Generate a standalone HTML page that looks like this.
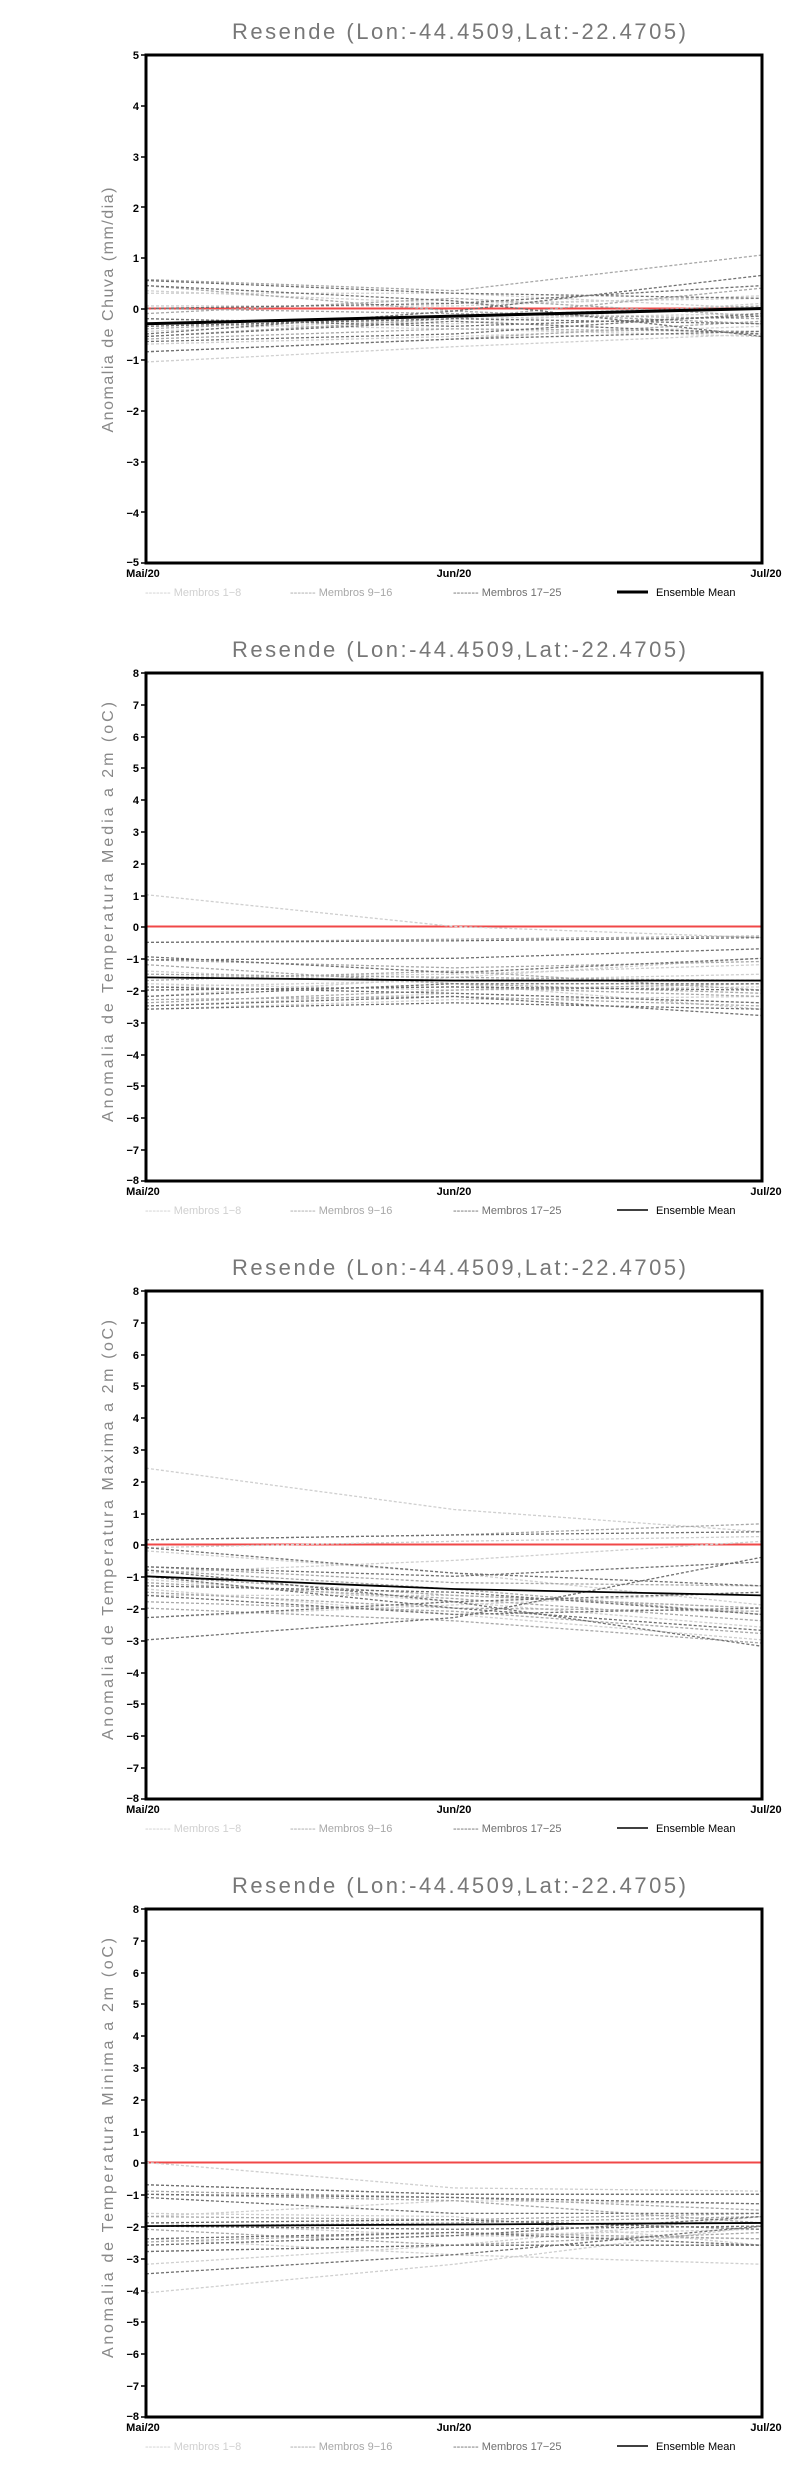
<!DOCTYPE html>
<html><head><meta charset="utf-8"><style>
html,body{margin:0;padding:0;background:#fff;}
svg{display:block;}
.t{font-family:"Liberation Sans",sans-serif;font-size:22px;fill:#777;font-weight:300;}
.yl{font-family:"Liberation Sans",sans-serif;font-size:16px;fill:#888;}
.tk{font-family:"Liberation Sans",sans-serif;font-size:11px;font-weight:bold;fill:#000;}
.lg{font-family:"Liberation Sans",sans-serif;font-size:11px;}
.m1{stroke:#cfcfcf;}.m2{stroke:#a8a8a8;}.m3{stroke:#707070;}
.d polyline{fill:none;stroke-width:1.3;stroke-dasharray:3 2;vector-effect:non-scaling-stroke;}
.mean{fill:none;stroke:#000;vector-effect:non-scaling-stroke;}
.zero{fill:none;stroke:#f04848;stroke-width:2;vector-effect:non-scaling-stroke;}
</style></head><body>
<svg width="800" height="2472" viewBox="0 0 800 2472" xmlns="http://www.w3.org/2000/svg">

<!-- Panel 1 -->
<g>
<text class="t" x="459" y="39" text-anchor="middle" textLength="454">Resende (Lon:-44.4509,Lat:-22.4705)</text>
<text class="yl" transform="translate(113,310) rotate(-90)" text-anchor="middle" textLength="245">Anomalia de Chuva (mm/dia)</text>
<g transform="translate(146,308.5) scale(308,-50.9)">
<polyline class="zero" points="0,0 2,0"/>
<g class="d">
<polyline class="m1" points="0,-1.05 1,-0.75 2,-0.5"/>
<polyline class="m1" points="0,0.35 1,0.1 2,0.2"/>
<polyline class="m1" points="0,-0.2 1,-0.3 2,0.1"/>
<polyline class="m1" points="0,-0.7 1,-0.55 2,-0.35"/>
<polyline class="m1" points="0,0.05 1,0.05 2,0.25"/>
<polyline class="m1" points="0,-0.45 1,-0.2 2,-0.1"/>
<polyline class="m1" points="0,-0.3 1,-0.4 2,-0.55"/>
<polyline class="m1" points="0,0.3 1,0.3 2,0"/>
<polyline class="m2" points="0,0.57 1,0.35 2,1.05"/>
<polyline class="m2" points="0,-0.55 1,-0.2 2,0.4"/>
<polyline class="m2" points="0,-0.1 1,0.2 2,-0.15"/>
<polyline class="m2" points="0,-0.6 1,-0.4 2,-0.45"/>
<polyline class="m2" points="0,0.45 1,-0.05 2,-0.3"/>
<polyline class="m2" points="0,-0.4 1,-0.15 2,0.05"/>
<polyline class="m2" points="0,-0.85 1,-0.6 2,-0.25"/>
<polyline class="m2" points="0,0 1,-0.1 2,-0.2"/>
<polyline class="m3" points="0,0.45 1,0.15 2,-0.55"/>
<polyline class="m3" points="0,-0.5 1,-0.05 2,0.65"/>
<polyline class="m3" points="0,-0.85 1,-0.6 2,-0.45"/>
<polyline class="m3" points="0,0 1,0.1 2,0.45"/>
<polyline class="m3" points="0,-0.2 1,-0.35 2,-0.15"/>
<polyline class="m3" points="0,-0.55 1,-0.25 2,-0.5"/>
<polyline class="m3" points="0,0.55 1,0.3 2,0.2"/>
<polyline class="m3" points="0,-0.35 1,-0.2 2,-0.3"/>
<polyline class="m3" points="0,-0.65 1,-0.5 2,-0.1"/>
</g>
<polyline class="mean" stroke-width="3" points="0,-0.3 1,-0.15 2,0"/>
</g>
<rect x="146" y="55" width="616" height="508" fill="none" stroke="#000" stroke-width="3"/>
<g class="tk" text-anchor="end">
<text x="139" y="59">5</text><text x="139" y="110">4</text><text x="139" y="161">3</text><text x="139" y="212">2</text><text x="139" y="262">1</text><text x="139" y="313">0</text><text x="139" y="364">−1</text><text x="139" y="415">−2</text><text x="139" y="466">−3</text><text x="139" y="517">−4</text><text x="139" y="566">−5</text>
</g>
<g stroke="#000" stroke-width="1.5"><path d="M141 55h5M141 106h5M141 157h5M141 207h5M141 258h5M141 309h5M141 360h5M141 411h5M141 462h5M141 512h5M141 563h5"/></g>
<g class="tk" text-anchor="middle"><text x="143" y="577">Mai/20</text><text x="454" y="577">Jun/20</text><text x="766" y="577">Jul/20</text></g>
<g class="lg">
<text x="145" y="596" fill="#d0d0d0">------- Membros 1−8</text>
<text x="290" y="596" fill="#a8a8a8">------- Membros 9−16</text>
<text x="453" y="596" fill="#707070">------- Membros 17−25</text>
<line x1="617" y1="592" x2="648" y2="592" stroke="#000" stroke-width="3"/>
<text x="656" y="596" fill="#000">Ensemble Mean</text>
</g>
</g>

<!-- Panel 2 -->
<g transform="translate(0,618)">
<text class="t" x="459" y="39" text-anchor="middle" textLength="454">Resende (Lon:-44.4509,Lat:-22.4705)</text>
<text class="yl" transform="translate(113,294) rotate(-90)" text-anchor="middle" textLength="420">Anomalia de Temperatura Media a 2m (oC)</text>
<g transform="translate(146,308.5) scale(308,-31.8)">
<polyline class="zero" points="0,0 2,0"/>
<g class="d">
<polyline class="m1" points="0,1.0 1,0 2,-0.35"/>
<polyline class="m1" points="0,-1.6 1,-1.5 2,-1.2"/>
<polyline class="m1" points="0,-2.5 1,-2.1 2,-2.4"/>
<polyline class="m1" points="0,-1.8 1,-2.0 2,-1.9"/>
<polyline class="m1" points="0,-2.2 1,-1.6 2,-1.0"/>
<polyline class="m1" points="0,-1.4 1,-1.8 2,-2.6"/>
<polyline class="m1" points="0,-2.6 1,-2.3 2,-2.2"/>
<polyline class="m1" points="0,-1.9 1,-1.7 2,-1.5"/>
<polyline class="m2" points="0,-0.5 1,-0.4 2,-0.3"/>
<polyline class="m2" points="0,-1.05 1,-1.3 2,-1.1"/>
<polyline class="m2" points="0,-1.5 1,-1.6 2,-1.7"/>
<polyline class="m2" points="0,-2.0 1,-1.9 2,-2.2"/>
<polyline class="m2" points="0,-2.4 1,-2.0 2,-1.8"/>
<polyline class="m2" points="0,-1.7 1,-1.4 2,-2.0"/>
<polyline class="m2" points="0,-2.3 1,-2.2 2,-2.5"/>
<polyline class="m2" points="0,-1.2 1,-1.8 2,-2.1"/>
<polyline class="m3" points="0,-0.5 1,-0.45 2,-0.35"/>
<polyline class="m3" points="0,-0.95 1,-1.45 2,-1.0"/>
<polyline class="m3" points="0,-1.05 1,-1.0 2,-0.7"/>
<polyline class="m3" points="0,-1.6 1,-1.7 2,-1.7"/>
<polyline class="m3" points="0,-2.0 1,-1.9 2,-2.0"/>
<polyline class="m3" points="0,-2.5 1,-2.2 2,-2.8"/>
<polyline class="m3" points="0,-2.2 1,-1.8 2,-1.8"/>
<polyline class="m3" points="0,-1.9 1,-2.1 2,-2.4"/>
<polyline class="m3" points="0,-2.6 1,-2.4 2,-2.6"/>
</g>
<polyline class="mean" stroke-width="1.8" points="0,-1.6 1,-1.7 2,-1.7"/>
</g>
<rect x="146" y="55" width="616" height="508" fill="none" stroke="#000" stroke-width="3"/>
<g class="tk" text-anchor="end">
<text x="139" y="59">8</text><text x="139" y="91">7</text><text x="139" y="123">6</text><text x="139" y="154">5</text><text x="139" y="186">4</text><text x="139" y="218">3</text><text x="139" y="250">2</text><text x="139" y="282">1</text><text x="139" y="313">0</text><text x="139" y="345">−1</text><text x="139" y="377">−2</text><text x="139" y="409">−3</text><text x="139" y="441">−4</text><text x="139" y="472">−5</text><text x="139" y="504">−6</text><text x="139" y="536">−7</text><text x="139" y="566">−8</text>
</g>
<g stroke="#000" stroke-width="1.5"><path d="M141 55h5M141 87h5M141 119h5M141 150h5M141 182h5M141 214h5M141 246h5M141 278h5M141 309h5M141 341h5M141 373h5M141 405h5M141 437h5M141 468h5M141 500h5M141 532h5M141 563h5"/></g>
<g class="tk" text-anchor="middle"><text x="143" y="577">Mai/20</text><text x="454" y="577">Jun/20</text><text x="766" y="577">Jul/20</text></g>
<g class="lg">
<text x="145" y="596" fill="#d0d0d0">------- Membros 1−8</text>
<text x="290" y="596" fill="#a8a8a8">------- Membros 9−16</text>
<text x="453" y="596" fill="#707070">------- Membros 17−25</text>
<line x1="617" y1="592" x2="648" y2="592" stroke="#000" stroke-width="1.5"/>
<text x="656" y="596" fill="#000">Ensemble Mean</text>
</g>
</g>

<!-- Panel 3 -->
<g transform="translate(0,1236)">
<text class="t" x="459" y="39" text-anchor="middle" textLength="454">Resende (Lon:-44.4509,Lat:-22.4705)</text>
<text class="yl" transform="translate(113,294) rotate(-90)" text-anchor="middle" textLength="420">Anomalia de Temperatura Maxima a 2m (oC)</text>
<g transform="translate(146,308.5) scale(308,-31.8)">
<polyline class="zero" points="0,0 2,0"/>
<g class="d">
<polyline class="m1" points="0,2.4 1,1.1 2,0.4"/>
<polyline class="m1" points="0,-0.2 1,-0.9 2,-1.9"/>
<polyline class="m1" points="0,-1.1 1,-1.8 2,-2.6"/>
<polyline class="m1" points="0,-1.6 1,-1.6 2,-2.0"/>
<polyline class="m1" points="0,-2.3 1,-1.9 2,-1.5"/>
<polyline class="m1" points="0,-0.9 1,-0.5 2,0.1"/>
<polyline class="m1" points="0,-1.4 1,-2.2 2,-3.0"/>
<polyline class="m1" points="0,-0.1 1,0.1 2,0.25"/>
<polyline class="m2" points="0,0.15 1,0.3 2,0.65"/>
<polyline class="m2" points="0,-0.8 1,-1.4 2,-2.2"/>
<polyline class="m2" points="0,-1.2 1,-1.7 2,-2.4"/>
<polyline class="m2" points="0,-1.5 1,-2.0 2,-2.1"/>
<polyline class="m2" points="0,-1.8 1,-2.1 2,-2.8"/>
<polyline class="m2" points="0,-0.7 1,-1.2 2,-1.3"/>
<polyline class="m2" points="0,-1.0 1,-1.6 2,-2.0"/>
<polyline class="m2" points="0,-2.0 1,-2.4 2,-3.1"/>
<polyline class="m3" points="0,0.15 1,0.3 2,0.4"/>
<polyline class="m3" points="0,-0.1 1,-0.9 2,-1.3"/>
<polyline class="m3" points="0,-3.0 1,-2.3 2,-0.4"/>
<polyline class="m3" points="0,-0.7 1,-1.0 2,-0.55"/>
<polyline class="m3" points="0,-1.3 1,-1.5 2,-2.2"/>
<polyline class="m3" points="0,-2.3 1,-1.8 2,-1.5"/>
<polyline class="m3" points="0,-1.0 1,-2.0 2,-2.7"/>
<polyline class="m3" points="0,-0.8 1,-1.8 2,-3.2"/>
<polyline class="m3" points="0,-1.6 1,-2.2 2,-2.0"/>
</g>
<polyline class="mean" stroke-width="1.8" points="0,-1.0 1,-1.4 2,-1.6"/>
</g>
<rect x="146" y="55" width="616" height="508" fill="none" stroke="#000" stroke-width="3"/>
<g class="tk" text-anchor="end">
<text x="139" y="59">8</text><text x="139" y="91">7</text><text x="139" y="123">6</text><text x="139" y="154">5</text><text x="139" y="186">4</text><text x="139" y="218">3</text><text x="139" y="250">2</text><text x="139" y="282">1</text><text x="139" y="313">0</text><text x="139" y="345">−1</text><text x="139" y="377">−2</text><text x="139" y="409">−3</text><text x="139" y="441">−4</text><text x="139" y="472">−5</text><text x="139" y="504">−6</text><text x="139" y="536">−7</text><text x="139" y="566">−8</text>
</g>
<g stroke="#000" stroke-width="1.5"><path d="M141 55h5M141 87h5M141 119h5M141 150h5M141 182h5M141 214h5M141 246h5M141 278h5M141 309h5M141 341h5M141 373h5M141 405h5M141 437h5M141 468h5M141 500h5M141 532h5M141 563h5"/></g>
<g class="tk" text-anchor="middle"><text x="143" y="577">Mai/20</text><text x="454" y="577">Jun/20</text><text x="766" y="577">Jul/20</text></g>
<g class="lg">
<text x="145" y="596" fill="#d0d0d0">------- Membros 1−8</text>
<text x="290" y="596" fill="#a8a8a8">------- Membros 9−16</text>
<text x="453" y="596" fill="#707070">------- Membros 17−25</text>
<line x1="617" y1="592" x2="648" y2="592" stroke="#000" stroke-width="1.5"/>
<text x="656" y="596" fill="#000">Ensemble Mean</text>
</g>
</g>

<!-- Panel 4 -->
<g transform="translate(0,1854)">
<text class="t" x="459" y="39" text-anchor="middle" textLength="454">Resende (Lon:-44.4509,Lat:-22.4705)</text>
<text class="yl" transform="translate(113,294) rotate(-90)" text-anchor="middle" textLength="420">Anomalia de Temperatura Minima a 2m (oC)</text>
<g transform="translate(146,308.5) scale(308,-31.8)">
<polyline class="zero" points="0,0 2,0"/>
<g class="d">
<polyline class="m1" points="0,0 1,-0.8 2,-0.9"/>
<polyline class="m1" points="0,-4.1 1,-3.2 2,-2.0"/>
<polyline class="m1" points="0,-1.6 1,-1.7 2,-2.6"/>
<polyline class="m1" points="0,-2.4 1,-2.9 2,-3.2"/>
<polyline class="m1" points="0,-1.7 1,-1.2 2,-1.3"/>
<polyline class="m1" points="0,-2.6 1,-2.3 2,-2.4"/>
<polyline class="m1" points="0,-3.2 1,-2.6 2,-1.7"/>
<polyline class="m1" points="0,-1.9 1,-2.3 2,-2.1"/>
<polyline class="m2" points="0,-0.7 1,-1.0 2,-1.0"/>
<polyline class="m2" points="0,-0.9 1,-1.1 2,-1.5"/>
<polyline class="m2" points="0,-2.0 1,-1.9 2,-1.7"/>
<polyline class="m2" points="0,-2.5 1,-2.2 2,-2.4"/>
<polyline class="m2" points="0,-2.8 1,-2.6 2,-2.2"/>
<polyline class="m2" points="0,-1.7 1,-1.8 2,-1.6"/>
<polyline class="m2" points="0,-2.1 1,-2.6 2,-2.6"/>
<polyline class="m2" points="0,-1.0 1,-1.2 2,-1.9"/>
<polyline class="m3" points="0,-0.7 1,-1.0 2,-1.0"/>
<polyline class="m3" points="0,-1.0 1,-1.1 2,-1.3"/>
<polyline class="m3" points="0,-3.5 1,-2.9 2,-2.0"/>
<polyline class="m3" points="0,-2.4 1,-2.2 2,-2.6"/>
<polyline class="m3" points="0,-2.6 1,-2.3 2,-1.7"/>
<polyline class="m3" points="0,-1.1 1,-1.6 2,-1.6"/>
<polyline class="m3" points="0,-2.0 1,-2.1 2,-2.0"/>
<polyline class="m3" points="0,-2.8 1,-2.6 2,-2.6"/>
<polyline class="m3" points="0,-1.9 1,-1.8 2,-2.1"/>
</g>
<polyline class="mean" stroke-width="1.8" points="0,-2.0 1,-1.95 2,-1.9"/>
</g>
<rect x="146" y="55" width="616" height="508" fill="none" stroke="#000" stroke-width="3"/>
<g class="tk" text-anchor="end">
<text x="139" y="59">8</text><text x="139" y="91">7</text><text x="139" y="123">6</text><text x="139" y="154">5</text><text x="139" y="186">4</text><text x="139" y="218">3</text><text x="139" y="250">2</text><text x="139" y="282">1</text><text x="139" y="313">0</text><text x="139" y="345">−1</text><text x="139" y="377">−2</text><text x="139" y="409">−3</text><text x="139" y="441">−4</text><text x="139" y="472">−5</text><text x="139" y="504">−6</text><text x="139" y="536">−7</text><text x="139" y="566">−8</text>
</g>
<g stroke="#000" stroke-width="1.5"><path d="M141 55h5M141 87h5M141 119h5M141 150h5M141 182h5M141 214h5M141 246h5M141 278h5M141 309h5M141 341h5M141 373h5M141 405h5M141 437h5M141 468h5M141 500h5M141 532h5M141 563h5"/></g>
<g class="tk" text-anchor="middle"><text x="143" y="577">Mai/20</text><text x="454" y="577">Jun/20</text><text x="766" y="577">Jul/20</text></g>
<g class="lg">
<text x="145" y="596" fill="#d0d0d0">------- Membros 1−8</text>
<text x="290" y="596" fill="#a8a8a8">------- Membros 9−16</text>
<text x="453" y="596" fill="#707070">------- Membros 17−25</text>
<line x1="617" y1="592" x2="648" y2="592" stroke="#000" stroke-width="1.5"/>
<text x="656" y="596" fill="#000">Ensemble Mean</text>
</g>
</g>
</svg>
</body></html>
